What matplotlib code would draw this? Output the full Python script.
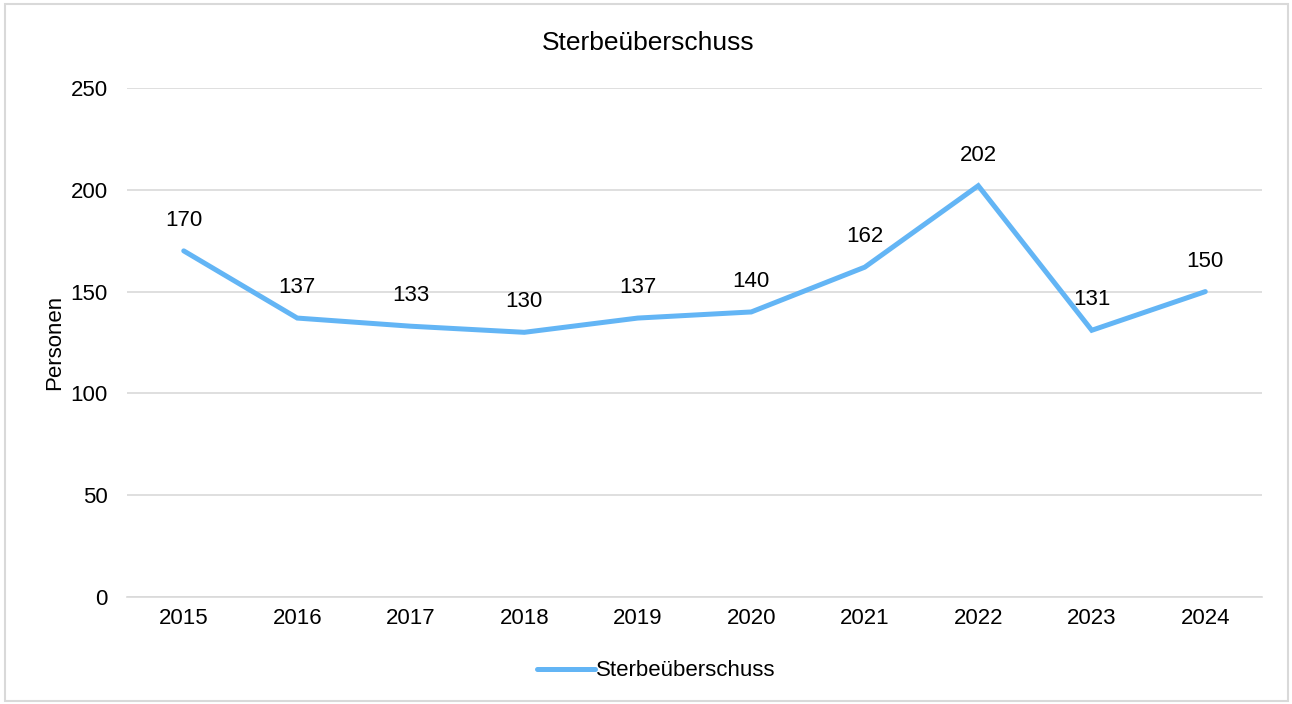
import matplotlib
matplotlib.use('Agg')
import matplotlib.pyplot as plt
from matplotlib.patches import Rectangle

years = ['2015', '2016', '2017', '2018', '2019', '2020', '2021', '2022', '2023', '2024']
values = [170, 137, 133, 130, 137, 140, 162, 202, 131, 150]
y_ticks = [0, 50, 100, 150, 200, 250]

plt.rcParams['font.family'] = ['Liberation Sans', 'DejaVu Sans']

fig = plt.figure(figsize=(12.92, 7.04), dpi=100)
ax = fig.add_axes([0.0983, 0.152, 0.8785, 0.723])

x = range(len(years))
ax.plot(x, values, color='#63B5F5', linewidth=3.6, solid_joinstyle='miter',
        solid_capstyle='round', label='Sterbeüberschuss', zorder=3)

# data labels above each point
for i, v in zip(x, values):
    ax.annotate(str(v), (i, v), xytext=(0, 22), textcoords='offset points',
                ha='center', va='center', fontsize=16, color='black')

ax.set_xlim(-0.5, len(years) - 0.5)
ax.set_ylim(0, 250)
ax.set_yticks(y_ticks)
ax.set_xticks(list(x))
ax.set_xticklabels(years)
ax.tick_params(axis='both', length=0, labelsize=16, colors='black')
ax.tick_params(axis='y', pad=14)
ax.tick_params(axis='x', pad=8)
ax.grid(axis='y', color='#D9D9D9', linewidth=1.2)
ax.set_axisbelow(True)
for s in ['top', 'right', 'left']:
    ax.spines[s].set_visible(False)
ax.spines['bottom'].set_color('#D9D9D9')
ax.spines['bottom'].set_linewidth(1.2)

ax.set_ylabel('Personen', fontsize=16, labelpad=4)
fig.text(0.502, 0.939, 'Sterbeüberschuss', ha='center', va='center', fontsize=19)

fig.legend(loc='center', bbox_to_anchor=(0.508, 0.047), frameon=False, fontsize=16,
           handlelength=2.6, handletextpad=0.05)

# light frame around the chart
fig.patches.append(Rectangle((0.004, 0.004), 0.993, 0.99, transform=fig.transFigure,
                             fill=False, edgecolor='#D9D9D9', linewidth=1.5))

plt.savefig('out.png', dpi=100)
